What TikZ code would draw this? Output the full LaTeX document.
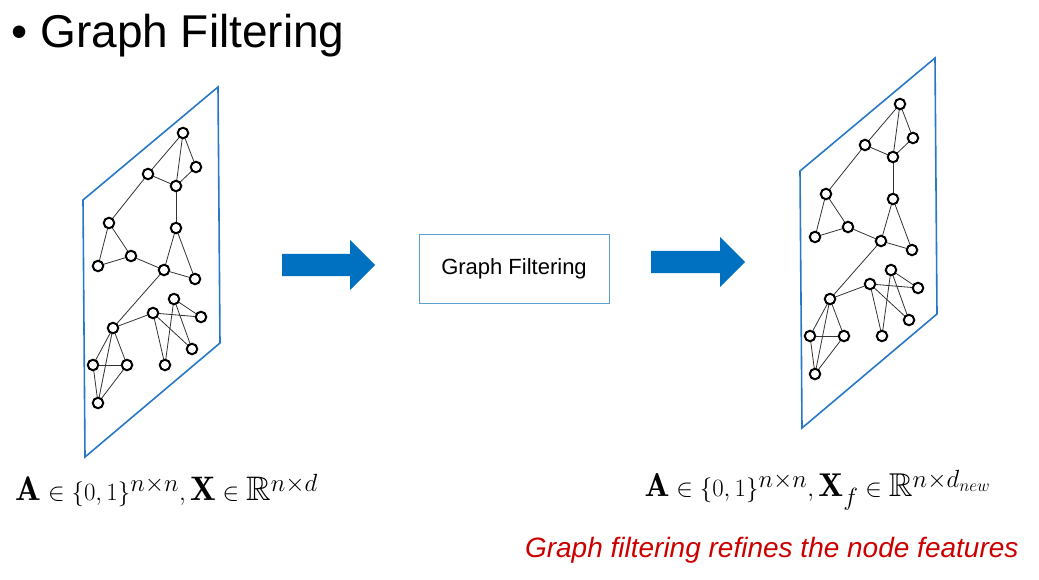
\documentclass[tikz,border=0pt]{standalone}
\usepackage{fontspec}
\usepackage{amsmath,amssymb}
\setsansfont{Liberation Sans}
\definecolor{ppblue}{RGB}{0,112,192}
\definecolor{frblue}{RGB}{40,120,200}
\definecolor{bxblue}{RGB}{90,160,210}
\begin{document}
\begin{tikzpicture}[x=1pt,y=-1pt,
  vtx/.style={circle,draw,line width=2pt,inner sep=0pt,minimum size=10.5pt,fill=white},
  edg/.style={line width=0.8pt,black!80},
  frame/.style={draw=frblue,line width=1.6pt}]
\useasboundingbox (0,0) rectangle (1039,580);
\node[anchor=west,font=\sffamily\fontsize{46}{50}\selectfont] (title) at (8,36) {\textbullet\ Graph Filtering};
\foreach \dx/\dy/\p in {0/0/L,717/-29/R}{
\begin{scope}[shift={(\dx,\dy)}]
\draw[frame] (83,200) -- (218,87) -- (220,343) -- (85,457) -- cycle;
\foreach \n/\x/\y in {1/183/133,2/196/167,3/148/174,4/176/186,5/109/223,6/176/228,7/98/266,8/131/256,9/164/270,10/195/279,11/174/299,12/153/313,13/201/317,14/113/328,15/192/349,16/165/365,17/93/365,18/127/365,19/98/403}
  \coordinate (\p\n) at (\x,\y);
\foreach \a/\b in {1/3,1/4,1/2,2/4,3/4,3/5,4/6,5/7,5/8,7/8,8/9,6/9,6/10,9/10,9/14,14/12,12/13,12/16,11/13,11/15,11/16,12/15,14/17,14/18,14/19,17/18,17/19,18/19}
  \draw[edg] (\p\a) -- (\p\b);
\foreach \n in {1,...,19} \node[vtx] at (\p\n) {};
\end{scope}}
\coordinate (a1) at (282,265);
\fill[ppblue] (a1) ++(0,-11) -- ++(68,0) -- ++(0,-14) -- ++(25,25) -- ++(-25,25) -- ++(0,-14) -- ++(-68,0) -- cycle;
\node[draw=bxblue,line width=1pt,minimum width=190pt,minimum height=69pt,font=\sffamily\fontsize{22}{25}\selectfont] (box) at (514,269) {Graph Filtering};
\coordinate (a2) at (651,262);
\fill[ppblue] (a2) ++(0,-11) -- ++(69,0) -- ++(0,-14) -- ++(25,25) -- ++(-25,25) -- ++(0,-14) -- ++(-69,0) -- cycle;
\node[anchor=west,font=\fontsize{34}{38}\selectfont] (fl) at (12,490) {$\mathbf{A}\in\{0,1\}^{n\times n},\mathbf{X}\in\mathbb{R}^{n\times d}$};
\node[anchor=west,font=\fontsize{33}{37}\selectfont] (fr) at (641,490) {$\mathbf{A}\in\{0,1\}^{n\times n},\mathbf{X}_f\in\mathbb{R}^{n\times d_{new}}$};
\node[anchor=east,text=red!80!black,font=\sffamily\itshape\fontsize{28}{31}\selectfont] (note) at (1022,550) {Graph filtering refines the node features};
\end{tikzpicture}
\end{document}
